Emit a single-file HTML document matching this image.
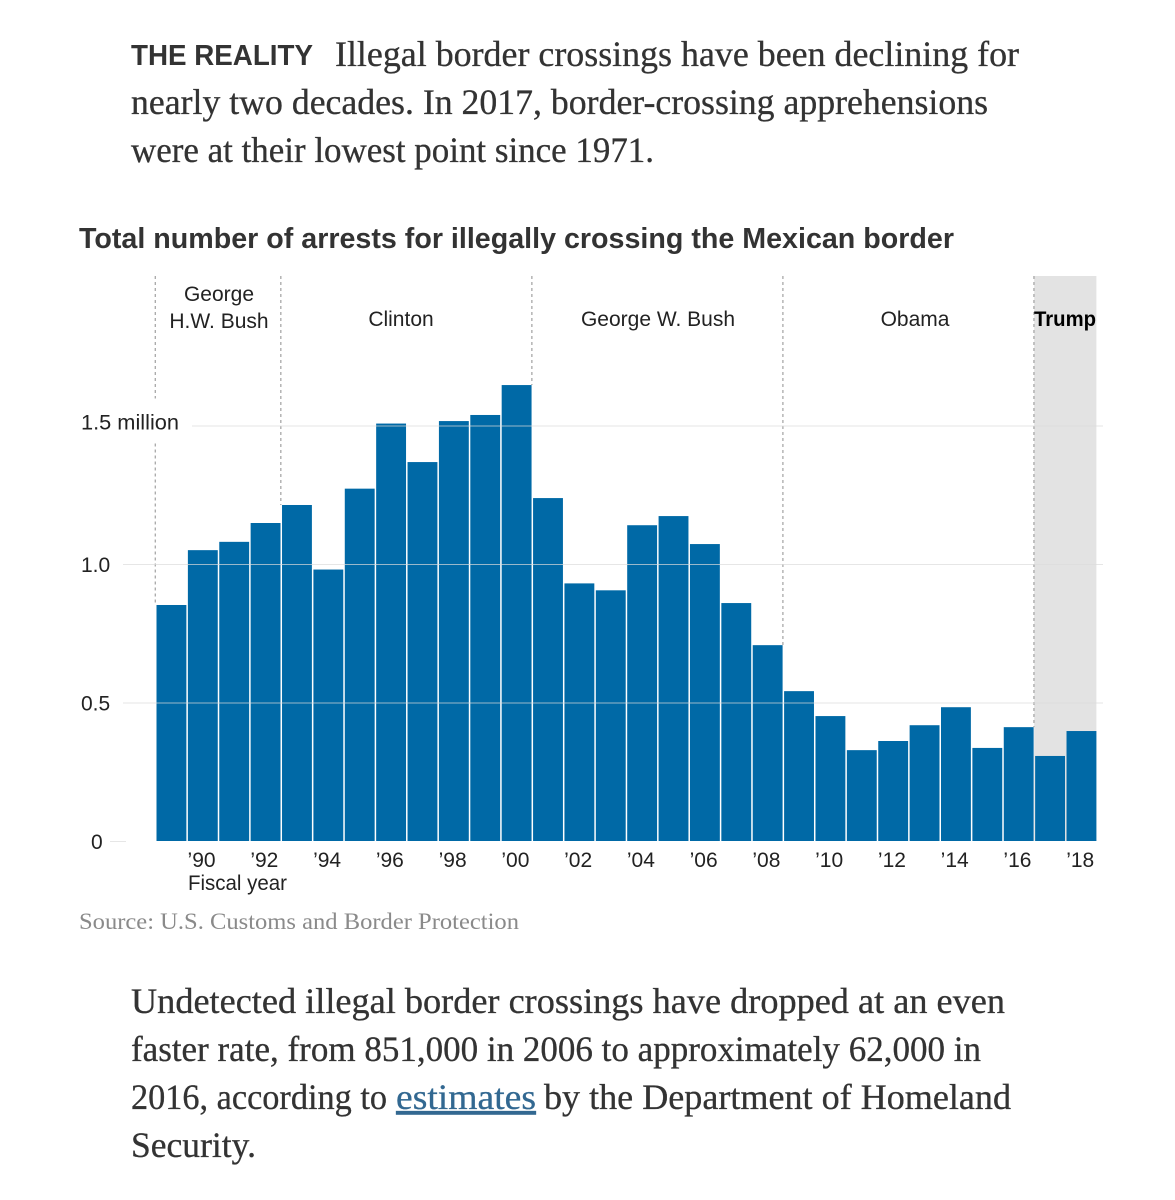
<!DOCTYPE html>
<html lang="en">
<head>
<meta charset="utf-8">
<title>Total number of arrests for illegally crossing the Mexican border</title>
<style>
html,body{margin:0;padding:0;background:#fff;width:1175px;height:1200px;overflow:hidden}
svg{display:block}
.body{font-family:"Liberation Serif",serif;font-size:36px;fill:#333;stroke:#333;stroke-width:.3px}
.sans{font-family:"Liberation Sans",sans-serif}
.lab{font-family:"Liberation Sans",sans-serif;font-size:21px;fill:#222}
</style>
</head>
<body>
<svg id="page" width="1175" height="1200" viewBox="0 0 1175 1200" xmlns="http://www.w3.org/2000/svg">
  <g>
    <text class="sans" x="131" y="65" font-size="29" font-weight="bold" fill="#333" textLength="182" lengthAdjust="spacingAndGlyphs">THE REALITY</text>
    <text class="body" x="335" y="66" textLength="684" lengthAdjust="spacingAndGlyphs">Illegal border crossings have been declining for</text>
    <text class="body" x="131" y="114" textLength="857" lengthAdjust="spacingAndGlyphs">nearly two decades. In 2017, border-crossing apprehensions</text>
    <text class="body" x="131" y="162" textLength="523" lengthAdjust="spacingAndGlyphs">were at their lowest point since 1971.</text>
  </g>
  <text class="sans" x="79" y="248" font-size="29" font-weight="bold" fill="#333" textLength="875" lengthAdjust="spacingAndGlyphs">Total number of arrests for illegally crossing the Mexican border</text>

  <g id="chart"></g>

  <text x="79" y="929" font-family="'Liberation Serif',serif" font-size="23.5" fill="#8a8a8a" textLength="440" lengthAdjust="spacingAndGlyphs">Source: U.S. Customs and Border Protection</text>

  <g>
    <text class="body" x="131" y="1013" textLength="874" lengthAdjust="spacingAndGlyphs">Undetected illegal border crossings have dropped at an even</text>
    <text class="body" x="131" y="1061" textLength="850" lengthAdjust="spacingAndGlyphs">faster rate, from 851,000 in 2006 to approximately 62,000 in</text>
    <text class="body" x="131" y="1109" textLength="256" lengthAdjust="spacingAndGlyphs">2016, according to</text>
    <text class="body" x="396" y="1109" textLength="140" lengthAdjust="spacingAndGlyphs" style="fill:#326891;stroke:#326891;text-decoration:underline;cursor:pointer">estimates</text>
    <text class="body" x="544" y="1109" textLength="467" lengthAdjust="spacingAndGlyphs">by the Department of Homeland</text>
    <text class="body" x="131" y="1157" textLength="125" lengthAdjust="spacingAndGlyphs">Security.</text>
  </g>
</svg>
<script>
var years = [1989,1990,1991,1992,1993,1994,1995,1996,1997,1998,1999,2000,2001,2002,2003,2004,2005,2006,2007,2008,2009,2010,2011,2012,2013,2014,2015,2016,2017,2018];
var arrests = [0.852,1.050,1.080,1.148,1.213,0.980,1.272,1.507,1.368,1.516,1.538,1.646,1.238,0.930,0.905,1.140,1.173,1.072,0.859,0.707,0.541,0.451,0.328,0.361,0.418,0.483,0.336,0.411,0.307,0.397];
var yTickValues = [0,0.5,1.0,1.5];
var yTickLabels = ["0","0.5","1.0","1.5 million"];
var xTickYears = [1990,1992,1994,1996,1998,2000,2002,2004,2006,2008,2010,2012,2014,2016,2018];
var xTickLabels = ["\u201990","\u201992","\u201994","\u201996","\u201998","\u201900","\u201902","\u201904","\u201906","\u201908","\u201910","\u201912","\u201914","\u201916","\u201918"];
var termStartYears = [1989,1993,2001,2009,2017];
var termNames = ["George H.W. Bush","Clinton","George W. Bush","Obama","Trump"];

var NS = "http://www.w3.org/2000/svg";
var chart = document.getElementById("chart");
var PLOT_LEFT = 156.5, PITCH = 31.38, Y0 = 841, PX_PER_MILLION = 277, PLOT_TOP = 276;
function xScale(year){ return PLOT_LEFT + (year - years[0]) * PITCH; }
function yScale(v){ return Y0 - v * PX_PER_MILLION; }
function make(tag, attrs, parent){
  var el = document.createElementNS(NS, tag);
  for (var k in attrs) el.setAttribute(k, attrs[k]);
  (parent || chart).appendChild(el);
  return el;
}
function valueFor(year){ return arrests[years.indexOf(year)]; }

/* Trump shaded band */
var band = make("rect", {x: xScale(2017) - 1, y: PLOT_TOP, width: xScale(2019) - xScale(2017) - 0.5, height: Y0 - PLOT_TOP, fill: "#e3e3e3"});



/* Term divider lines (stop at the bar top) */
termStartYears.forEach(function(year, i){
  var x = xScale(year) - 1.2;
  var bottom = i === 0 ? yScale(valueFor(year)) : yScale(Math.max(valueFor(year), valueFor(year - 1)));
  if (i === 0) {
    var upper = make("line", {x1: x, x2: x, y1: PLOT_TOP, y2: yScale(1.5) - 27, stroke: "#a8a8a8", "stroke-width": 1.3, "stroke-dasharray": "3 3"});
    
    
    var lower = make("line", {x1: x, x2: x, y1: yScale(1.5) + 18, y2: bottom, stroke: "#a8a8a8", "stroke-width": 1.3, "stroke-dasharray": "3 3"});
    
    
  } else {
    var line = make("line", {x1: x, x2: x, y1: PLOT_TOP, y2: bottom, stroke: "#a8a8a8", "stroke-width": 1.3, "stroke-dasharray": "3 3"});
    
    
  }
});

/* Bars */
years.forEach(function(year, i){
  var bar = make("rect", {x: xScale(year), y: yScale(arrests[i]), width: PITCH - 1.5, height: Y0 - yScale(arrests[i]), fill: "#0069a6"});
  
  
});

/* Gridlines over the bars + y labels */
yTickValues.forEach(function(v, i){
  var startX = v === 0 ? 110 : (v === 1.5 ? 192 : 123);
  var endX = v === 0 ? 126 : 1103;
  var grid = make("line", {x1: startX, x2: endX, y1: yScale(v) + 0.5, y2: yScale(v) + 0.5, stroke: "#dcdcdc", "stroke-width": 1, "stroke-opacity": 0.7});
  
  
  var labelY = v === 1.5 ? yScale(v) + 4 : yScale(v) + 8;
  var label = make("text", {x: v === 0 ? 91 : 81, y: labelY, "class": "lab"});
  if (v === 1.5) {
    label.setAttribute("textLength", "98");
    label.setAttribute("lengthAdjust", "spacingAndGlyphs");
  }
  label.textContent = yTickLabels[i];
  
  
});

/* X labels */
xTickYears.forEach(function(year, i){
  var label = make("text", {x: xScale(year) + PITCH / 2 - 2, y: 867, "text-anchor": "middle", "class": "lab"});
  label.textContent = xTickLabels[i];
  
  
});
var axisTitle = make("text", {x: 188, y: 890, "class": "lab", textLength: 99, lengthAdjust: "spacingAndGlyphs"});
axisTitle.textContent = "Fiscal year";



/* Term labels */
var g1 = make("text", {x: 219, y: 301, "text-anchor": "middle", "class": "lab"});
g1.textContent = "George";


var g2 = make("text", {x: 219, y: 328, "text-anchor": "middle", "class": "lab"});
g2.textContent = "H.W. Bush";


[[1,401],[2,658],[3,915]].forEach(function(p){
  var t = make("text", {x: p[1], y: 326, "text-anchor": "middle", "class": "lab"});
  t.textContent = termNames[p[0]];
  
  
});
var trump = make("text", {x: 1034, y: 326, "class": "lab", "font-weight": "bold", textLength: 62, lengthAdjust: "spacingAndGlyphs"});
trump.style.fill = "#000";
trump.textContent = termNames[4];


</script>
</body>
</html>
